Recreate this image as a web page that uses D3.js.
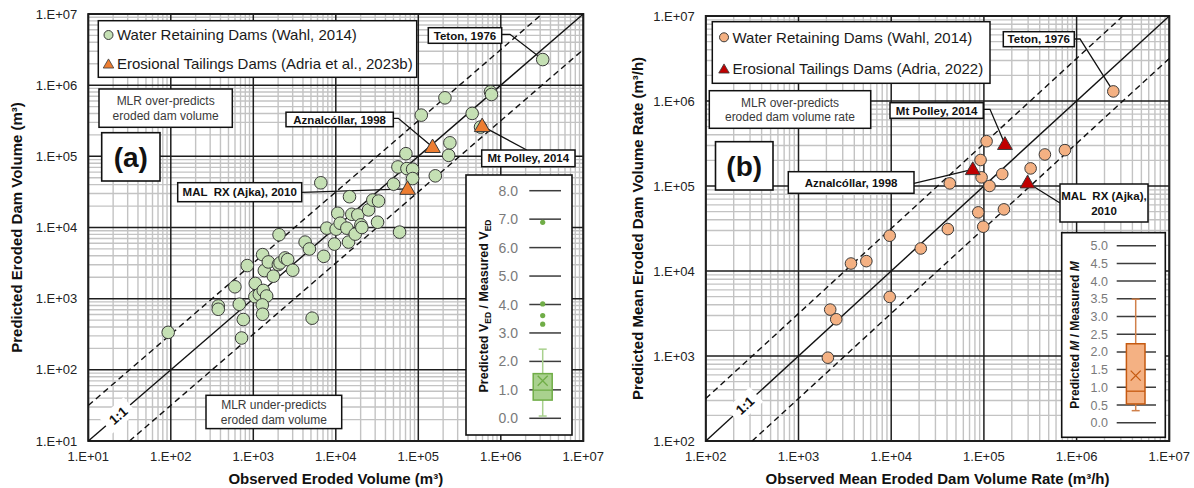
<!DOCTYPE html>
<html><head><meta charset="utf-8">
<script src="https://cdn.jsdelivr.net/npm/d3@7"></script>
<style>
body{margin:0;background:#fff}
svg{display:block}
text{font-family:"Liberation Sans",Arial,Helvetica,sans-serif;white-space:pre}
</style>
</head><body>
<svg id="chart" width="1194" height="488"></svg>
<script>
// ================= DATA =================
// Panel (a): eroded volume (m3)
const wahlVolObserved = [93,721,757,676,376,376,598,845,1057,1297,1047,1183,1321,1452,1285,1297,1361,1521,1750,2014,2109,2427,2612,3006,2051,4246,4786,5164,6577,7145,7780,9638,10093,10568,11298,13614,14256,14655,15631,17179,18493,20137,20701,24946,28119,32961,32063,50119,59293,56624,70795,72778,85310,85310,160694,233346,3221069,749894,770904,210378,108643,449780,567545,241546];
const wahlVolPredicted = [336,280,509,834,791,710,1469,2917,1637,4159,1067,1148,1306,1089,817,604,2483,3281,2070,3013,3177,3733,3540,2512,7907,6237,4989,532,42462,3936,9795,5848,9484,15849,11482,9795,6237,27102,15346,8072,15031,10889,10000,17660,24322,23550,11858,40644,8610,70958,108893,67298,65917,48753,53211,103276,2290868,807235,739605,663743,379315,400867,257632,154882];
const tailVolNames = ["Aznalcóllar, 1998","Mt Polley, 2014","MAL  RX (Ajka), 2010"];
const tailVolObserved = [148936,594292,74131];
const tailVolPredicted = [135207,266073,34914];
const tetonVol = [3221069,2290868];

// Panel (b): mean eroded volume rate (m3/h)
const wahlRateObserved = [2075,2198,2553,3681,5395,9638,9638,20845,40832,42855,86896,98401,92045,94406,115080,157761,164437,2488857,106905,319154,454988,748169];
const wahlRatePredicted = [955,3516,2704,12246,13062,4955,26002,18408,31117,107399,48978,33189,202302,126474,100000,138357,53088,1297179,336512,161064,234963,264241];
const tailRateNames = ["Aznalcóllar, 1998","Mt Polley, 2014","MAL  RX (Ajka),"];
const tailRateObserved = [75858,168655,295801];
const tailRatePredicted = [157036,310456,109396];
const tetonRate = [2488857,1297179];

// Axis ticks
const ticksA = [1e1,1e2,1e3,1e4,1e5,1e6,1e7];
const ticksB = [1e2,1e3,1e4,1e5,1e6,1e7];
const bandFactor = 3.16;

// Inset box plots (predicted / measured)
const insetTicksA = [0,1,2,3,4,5,6,7,8];
const boxA = {min:0.08, q1:0.64, median:0.99, q3:1.57, max:2.43, mean:1.32};
const outliersA = [3.31,3.61,4.02,6.89];
const insetTicksB = [0,0.5,1,1.5,2,2.5,3,3.5,4,4.5,5];
const boxB = {min:0.34, q1:0.53, median:0.89, q3:2.23, max:3.49, mean:1.33};
const outliersB = [];

// ================= DRAW =================
const svg = d3.select("#chart");
const fmt = d => "1.E+" + String(Math.round(Math.log10(d))).padStart(2,"0");

function drawPanel(cfg){
  const g = svg.append("g");
  const x = d3.scaleLog().domain(cfg.domain).range(cfg.xr);
  const y = d3.scaleLog().domain(cfg.domain).range(cfg.yr);
  const [lo, hi] = cfg.domain;
  const decades = cfg.ticks;
  // minor grid
  const minors = [];
  decades.slice(0,-1).forEach(d => { for (let k=2;k<=9;k++) minors.push(d*k); });
  g.append("g").selectAll("line.vx").data(minors).join("line")
    .attr("x1",d=>x(d)).attr("x2",d=>x(d)).attr("y1",cfg.yr[0]).attr("y2",cfg.yr[1])
    .attr("stroke","#c3c3c3").attr("stroke-width",1.4);
  g.append("g").selectAll("line.hy").data(minors).join("line")
    .attr("y1",d=>y(d)).attr("y2",d=>y(d)).attr("x1",cfg.xr[0]).attr("x2",cfg.xr[1])
    .attr("stroke","#c3c3c3").attr("stroke-width",1.4);
  // major grid
  g.append("g").selectAll("line").data(decades).join("line")
    .attr("x1",d=>x(d)).attr("x2",d=>x(d)).attr("y1",cfg.yr[0]).attr("y2",cfg.yr[1])
    .attr("stroke","#1e1e1e").attr("stroke-width",1.5);
  g.append("g").selectAll("line").data(decades).join("line")
    .attr("y1",d=>y(d)).attr("y2",d=>y(d)).attr("x1",cfg.xr[0]).attr("x2",cfg.xr[1])
    .attr("stroke","#1e1e1e").attr("stroke-width",1.5);
  // border
  g.append("rect").attr("x",cfg.xr[0]).attr("y",cfg.yr[1])
    .attr("width",cfg.xr[1]-cfg.xr[0]).attr("height",cfg.yr[0]-cfg.yr[1])
    .attr("fill","none").attr("stroke","#1e1e1e").attr("stroke-width",2);

  // reference lines
  const line = d3.line().x(d=>x(d[0])).y(d=>y(d[1]));
  g.append("path").attr("d",line([[lo,lo],[hi,hi]])).attr("stroke","#111").attr("stroke-width",1.4).attr("fill","none");
  g.append("path").attr("d",line([[lo,lo*bandFactor],[hi/bandFactor,hi]])).attr("stroke","#111").attr("stroke-width",1.4).attr("stroke-dasharray","6,4").attr("fill","none");
  g.append("path").attr("d",line([[lo*bandFactor,lo],[hi,hi/bandFactor]])).attr("stroke","#111").attr("stroke-width",1.4).attr("stroke-dasharray","6,4").attr("fill","none");

  // 1:1 label
  const lv = lo*Math.pow(10,cfg.oneLabelAt);
  const ang = -Math.atan((cfg.yr[0]-cfg.yr[1])/(cfg.xr[1]-cfg.xr[0]))*180/Math.PI;
  const lg = g.append("g").attr("transform",`translate(${x(lv)},${y(lv)}) rotate(${ang})`);
  lg.append("rect").attr("x",-16).attr("y",-10).attr("width",32).attr("height",20).attr("fill","#fff");
  lg.append("text").attr("text-anchor","middle").attr("y",5).attr("font-size",13.5).attr("font-weight","bold").attr("fill","#111").text("1:1");

  // axes labels
  g.append("g").selectAll("text").data(decades).join("text")
    .attr("x",cfg.xr[0]-11).attr("y",d=>y(d)+4.5).attr("text-anchor","end")
    .attr("font-size",13).attr("fill","#222").text(fmt);
  g.append("g").selectAll("text").data(decades).join("text")
    .attr("x",d=>x(d)).attr("y",cfg.yr[0]+20).attr("text-anchor","middle")
    .attr("font-size",13).attr("fill","#222").text(fmt);
  g.append("text").attr("x",(cfg.xr[0]+cfg.xr[1])/2).attr("y",484).attr("text-anchor","middle")
    .attr("font-size",15).attr("font-weight","bold").attr("fill","#111").text(cfg.xTitle);
  g.append("text").attr("transform",`translate(${cfg.yTitleX},${(cfg.yr[0]+cfg.yr[1])/2}) rotate(-90)`)
    .attr("text-anchor","middle").attr("font-size",15).attr("font-weight","bold").attr("fill","#111").text(cfg.yTitle);

  // leader lines (under markers)
  cfg.leaders.forEach(L => {
    const pts = L.path.concat([[x(L.to[0]), y(L.to[1])]]);
    g.append("path").attr("d",d3.line()(pts)).attr("stroke","#111").attr("stroke-width",1.3).attr("fill","none");
  });

  // circles
  g.append("g").selectAll("circle").data(cfg.obs.map((o,i)=>[o,cfg.pred[i]])).join("circle")
    .attr("cx",d=>x(d[0])).attr("cy",d=>y(d[1])).attr("r",cfg.r)
    .attr("fill",cfg.circleFill).attr("stroke","#3a3a3a").attr("stroke-width",1);
  // triangles
  const tri = d3.symbol().type(d3.symbolTriangle).size(cfg.triSize);
  g.append("g").selectAll("path").data(cfg.tObs.map((o,i)=>[o,cfg.tPred[i]])).join("path")
    .attr("d",tri).attr("transform",d=>`translate(${x(d[0])},${y(d[1])+1})`)
    .attr("fill",cfg.triFill).attr("stroke","#3a3a3a").attr("stroke-width",1);

  // boxes
  function box(b){
    g.append("rect").attr("x",b.x).attr("y",b.y).attr("width",b.w).attr("height",b.h)
      .attr("fill","#fff").attr("stroke","#111").attr("stroke-width",b.sw||1.5);
    const n = b.lines.length;
    b.lines.forEach((t,i)=>{
      g.append("text").attr("x",b.x+b.w/2).attr("y",b.y+b.h/2+(i-(n-1)/2)*b.lh+b.fs*0.36)
        .attr("text-anchor","middle").attr("font-size",b.fs).attr("font-weight",b.bold?"bold":"normal")
        .attr("fill",b.color||"#111").text(t);
    });
  }
  cfg.boxes.forEach(box);

  // legend
  const L = cfg.legend;
  g.append("rect").attr("x",L.x).attr("y",L.y).attr("width",L.w).attr("height",L.h)
    .attr("fill","#fff").attr("stroke","#111").attr("stroke-width",1.5);
  g.append("circle").attr("cx",L.mx).attr("cy",L.y1).attr("r",4.5).attr("fill",cfg.circleFill).attr("stroke","#3a3a3a");
  g.append("path").attr("d",d3.symbol().type(d3.symbolTriangle).size(48)).attr("transform",`translate(${L.mx},${L.y2+1})`)
    .attr("fill",cfg.triFill).attr("stroke","#3a3a3a").attr("stroke-width",0.8);
  g.append("text").attr("x",L.mx+8.5).attr("y",L.y1+5.3).attr("font-size",15).attr("fill","#1a1a1a").text(L.t1);
  g.append("text").attr("x",L.mx+8.5).attr("y",L.y2+5.3).attr("font-size",15).attr("fill","#1a1a1a").text(L.t2);

  // inset
  const I = cfg.inset;
  g.append("rect").attr("x",I.x).attr("y",I.y).attr("width",I.w).attr("height",I.h)
    .attr("fill","#fff").attr("stroke","#111").attr("stroke-width",1.6);
  const iy = d3.scaleLinear().domain([0, d3.max(I.ticks)]).range(I.yr);
  g.append("g").selectAll("line").data(I.ticks).join("line")
    .attr("x1",I.gx[0]).attr("x2",I.gx[1]).attr("y1",d=>iy(d)).attr("y2",d=>iy(d))
    .attr("stroke","#3c3c3c").attr("stroke-width",1.5);
  g.append("g").selectAll("text").data(I.ticks).join("text")
    .attr("x",I.lx).attr("y",d=>iy(d)+I.fs*0.36).attr("text-anchor","end")
    .attr("font-size",I.fs).attr("fill","#7a7a7a").text(d=>d.toFixed(1));
  const B = I.box, cx = I.cx, bw = I.bw;
  g.append("line").attr("x1",cx).attr("x2",cx).attr("y1",iy(B.q3)).attr("y2",iy(B.max)).attr("stroke",I.wc).attr("stroke-width",1.5);
  g.append("line").attr("x1",cx).attr("x2",cx).attr("y1",iy(B.q1)).attr("y2",iy(B.min)).attr("stroke",I.wc).attr("stroke-width",1.5);
  [B.max,B.min].forEach(v=>g.append("line").attr("x1",cx-4).attr("x2",cx+4).attr("y1",iy(v)).attr("y2",iy(v)).attr("stroke",I.wc).attr("stroke-width",1.5));
  g.append("rect").attr("x",cx-bw/2).attr("y",iy(B.q3)).attr("width",bw).attr("height",iy(B.q1)-iy(B.q3))
    .attr("fill",I.fill).attr("stroke",I.stroke).attr("stroke-width",1.5);
  g.append("line").attr("x1",cx-bw/2).attr("x2",cx+bw/2).attr("y1",iy(B.median)).attr("y2",iy(B.median)).attr("stroke",I.stroke).attr("stroke-width",1.3);
  const my = iy(B.mean), s = 5;
  g.append("path").attr("d",`M${cx-s},${my-s}L${cx+s},${my+s}M${cx-s},${my+s}L${cx+s},${my-s}`).attr("stroke",I.stroke).attr("stroke-width",1.3);
  g.append("g").selectAll("circle").data(I.outliers).join("circle")
    .attr("cx",cx).attr("cy",d=>iy(d)).attr("r",2.6).attr("fill",I.stroke);
  const tt = g.append("text").attr("transform",`translate(${I.tx},${I.ty}) rotate(-90)`)
    .attr("text-anchor","middle").attr("font-size",I.tfs).attr("font-weight","bold").attr("fill","#111");
  I.title.forEach(p=>{
    const ts = tt.append("tspan").text(p.t);
    if (p.sub) ts.attr("font-size",I.tfs*0.68).attr("dy",3);
    if (p.up) ts.attr("dy",-3);
    if (p.it) ts.attr("font-style","italic");
  });
}

// ---------- Panel (a) ----------
drawPanel({
  domain:[1e1,1e7], ticks:ticksA, xr:[88.3,583.3], yr:[441,14],
  oneLabelAt:0.36,
  xTitle:"Observed Eroded Volume (m³)", yTitle:"Predicted Eroded Dam Volume (m³)", yTitleX:22,
  obs:wahlVolObserved, pred:wahlVolPredicted, tObs:tailVolObserved, tPred:tailVolPredicted,
  r:6.3, circleFill:"#c5e0b4", triFill:"#ed7d31", triSize:105,
  leaders:[
    {path:[[501.7,34.3],[510,34.3]], to:tetonVol},
    {path:[[393.3,118.3],[398.3,118.3]], to:[tailVolObserved[0],tailVolPredicted[0]]},
    {path:[[526.7,150]], to:[tailVolObserved[1],tailVolPredicted[1]]},
    {path:[[301.7,192.3]], to:[tailVolObserved[2],tailVolPredicted[2]]}
  ],
  boxes:[
    {x:428.3,y:27.7,w:73.4,h:15.6,lines:["Teton, 1976"],fs:11.5,bold:true,lh:14},
    {x:286,y:112.2,w:107.3,h:14.5,lines:[tailVolNames[0]],fs:11.5,bold:true,lh:14},
    {x:481.7,y:150,w:93.3,h:16.7,lines:[tailVolNames[1]],fs:11.5,bold:true,lh:14},
    {x:177.7,y:182.7,w:124,h:19,lines:[tailVolNames[2]],fs:11.5,bold:true,lh:14},
    {x:99,y:89,w:133.3,h:38.3,lines:["MLR over-predicts","eroded dam volume"],fs:12,lh:15,color:"#3a3a3a"},
    {x:206,y:395.3,w:135.7,h:33.3,lines:["MLR under-predicts","eroded dam volume"],fs:12,lh:15,color:"#3a3a3a"},
    {x:101.7,y:132.7,w:58.3,h:48.3,lines:["(a)"],fs:28,bold:true,lh:20,sw:1.6}
  ],
  legend:{x:98.3,y:20.7,w:318.4,h:56.6,mx:108.5,y1:35,y2:64,
    t1:"Water Retaining Dams (Wahl, 2014)", t2:"Erosional Tailings Dams (Adria et al., 2023b)"},
  inset:{x:466,y:175,w:106,h:260, ticks:insetTicksA, yr:[418.3,190.7], gx:[529.3,561], lx:518, fs:14,
    cx:542.7, bw:19, box:boxA, outliers:outliersA, fill:"#a9d18e", stroke:"#70ad47", wc:"#a9d18e",
    tx:487.5, ty:306, tfs:12.5,
    title:[{t:"Predicted V"},{t:"ED",sub:true},{t:" / Measured V",up:true},{t:"ED",sub:true}]}
});

// ---------- Panel (b) ----------
drawPanel({
  domain:[1e2,1e7], ticks:ticksB, xr:[705.8,1169.3], yr:[441,16],
  oneLabelAt:0.42,
  xTitle:"Observed Mean Eroded Dam Volume Rate (m³/h)", yTitle:"Predicted Mean Eroded Dam Volume Rate (m³/h)", yTitleX:643,
  obs:wahlRateObserved, pred:wahlRatePredicted, tObs:tailRateObserved, tPred:tailRatePredicted,
  r:5.8, circleFill:"#f4b183", triFill:"#c00000", triSize:95,
  leaders:[
    {path:[[1074.3,39],[1080,39]], to:tetonRate},
    {path:[[914,183.3]], to:[tailRateObserved[0],tailRatePredicted[0]]},
    {path:[[983.3,109.3],[990,109.3]], to:[tailRateObserved[1],tailRatePredicted[1]]},
    {path:[[1060,203]], to:[tailRateObserved[2],tailRatePredicted[2]]}
  ],
  boxes:[
    {x:1003.3,y:31.7,w:71,h:15,lines:["Teton, 1976"],fs:11.5,bold:true,lh:14},
    {x:788.3,y:171.7,w:125.7,h:21.6,lines:[tailRateNames[0]],fs:11.5,bold:true,lh:14},
    {x:890,y:102.7,w:93.3,h:15.6,lines:[tailRateNames[1]],fs:11.5,bold:true,lh:14},
    {x:1060,y:184,w:88,h:38,lines:[tailRateNames[2],"2010"],fs:11.5,bold:true,lh:15},
    {x:709.3,y:90.7,w:161.4,h:37.6,lines:["MLR over-predicts","eroded dam volume rate"],fs:12,lh:14.5,color:"#3a3a3a"},
    {x:715.5,y:141.7,w:57.5,h:48.3,lines:["(b)"],fs:28,bold:true,lh:20,sw:1.6}
  ],
  legend:{x:712.3,y:21.7,w:277.7,h:61.6,mx:724,y1:37.3,y2:69,
    t1:"Water Retaining Dams (Wahl, 2014)", t2:"Erosional Tailings Dams (Adria, 2022)"},
  inset:{x:1061.7,y:232.7,w:103.6,h:204.6, ticks:insetTicksB, yr:[422.7,245.7], gx:[1116.7,1156], lx:1108, fs:12.5,
    cx:1135.7, bw:18.6, box:boxB, outliers:outliersB, fill:"#f4b183", stroke:"#c55a11", wc:"#d0804a",
    tx:1079, ty:335, tfs:12,
    title:[{t:"Predicted "},{t:"M",it:true},{t:" / Measured "},{t:"M",it:true}]}
});
</script>
</body></html>
